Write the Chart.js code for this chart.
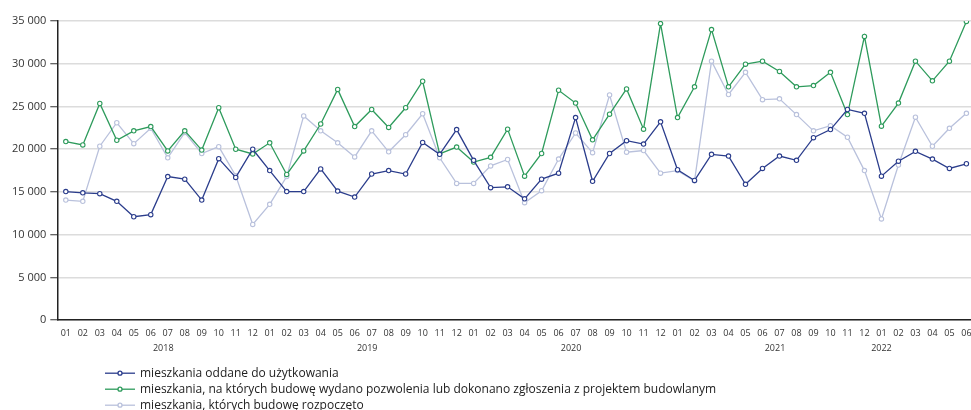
<!DOCTYPE html>
<html>
  <head>
    <meta charset="UTF-8">
    <style>
      html, body { margin: 0; padding: 0; background: #fff; overflow: hidden; }
      #wrap { width: 980px; height: 427px; }
    </style>
  </head>
  <body>
    <div id="wrap"><canvas id="chart"></canvas></div>

    <script src="https://cdn.jsdelivr.net/npm/chart.js@4.4.1/dist/chart.umd.min.js"></script>
    <script type="text/javascript">

      const months = ['01','02','03','04','05','06','07','08','09','10','11','12',
                      '01','02','03','04','05','06','07','08','09','10','11','12',
                      '01','02','03','04','05','06','07','08','09','10','11','12',
                      '01','02','03','04','05','06','07','08','09','10','11','12',
                      '01','02','03','04','05','06'];
      const years = ['2018', '2019', '2020', '2021', '2022'];

      // mieszkania oddane do użytkowania
      const oddane = [15050, 14900, 14800, 13900, 12100, 12350, 16800, 16500, 14050, 18900, 16700, 20000,
                      17500, 15050, 15050, 17700, 15100, 14400, 17100, 17500, 17100, 20800, 19400, 22300,
                      18700, 15500, 15600, 14200, 16500, 17200, 23700, 16250, 19500, 21000, 20600, 23200,
                      17600, 16350, 19400, 19200, 15900, 17750, 19200, 18700, 21350, 22300, 24650, 24200,
                      16850, 18600, 19750, 18850, 17750, 18300];
      // pozwolenia / zgłoszenia z projektem budowlanym
      const pozwolenia = [20900, 20500, 25350, 21050, 22150, 22650, 19800, 22150, 19900, 24850, 20000, 19450,
                          20750, 17050, 19800, 22950, 27000, 22650, 24650, 22550, 24850, 27950, 19450, 20250,
                          18500, 19050, 22350, 16850, 19500, 26900, 25400, 21100, 24100, 27050, 22350, 34700,
                          23700, 27300, 34000, 27300, 29950, 30300, 29100, 27300, 27450, 29000, 24050, 33200,
                          22700, 25400, 30300, 28000, 30300, 34950];
      // mieszkania, których budowę rozpoczęto
      const rozpoczete = [14050, 13900, 20350, 23100, 20650, 22450, 19000, 21950, 19500, 20300, 16900, 11200,
                          13550, 16800, 23900, 22150, 20750, 19100, 22150, 19700, 21700, 24150, 19000, 16000,
                          16000, 18050, 18800, 13750, 15150, 18850, 21900, 19600, 26350, 19650, 19850, 17200,
                          17500, 16300, 30300, 26400, 29000, 25800, 25900, 24050, 22150, 22750, 21400, 17500,
                          11850, 18150, 23750, 20350, 22450, 24200];

      const seriesNames = ['mieszkania oddane do użytkowania',
                           'mieszkania, na których budowę wydano pozwolenia lub dokonano zgłoszenia z projektem budowlanym',
                           'mieszkania, których budowę rozpoczęto'];
      const seriesColors = ['#2b3d8c', '#2e9b5c', '#b9c1dc'];

      const FONT = '"Open Sans", "Noto Sans", sans-serif';

      function fmt(v) {
        return String(v).replace(/\B(?=(\d{3})+(?!\d))/g, ' ');
      }

      // podpisy lat pod miesiącami
      const yearLabels = {
        id: 'yearLabels',
        afterDraw(chart) {
          const ctx = chart.ctx;
          const x = chart.scales.x;
          ctx.save();
          ctx.font = '9px ' + FONT;
          ctx.fillStyle = '#333';
          ctx.textAlign = 'center';
          ctx.textBaseline = 'middle';
          years.forEach((y, i) => {
            const first = i * 12;
            const last = Math.min(first + 11, months.length - 1);
            var px;
            if (last - first === 11) {
              px = (x.getPixelForValue(first) + x.getPixelForValue(last)) / 2 + 4;
            } else {
              px = x.getPixelForValue(first);
            }
            ctx.fillText(y, px, chart.chartArea.bottom + 28);
          });
          ctx.restore();
        }
      };

      // legenda w kolumnie
      const columnLegend = {
        id: 'columnLegend',
        afterDraw(chart) {
          const ctx = chart.ctx;
          ctx.save();
          ctx.font = '12px ' + FONT;
          ctx.textBaseline = 'middle';
          chart.data.datasets.forEach((ds, i) => {
            const y = chart.chartArea.bottom + 53 + i * 16;
            ctx.strokeStyle = ds.borderColor;
            ctx.lineWidth = 1.3;
            ctx.beginPath();
            ctx.moveTo(105, y);
            ctx.lineTo(135, y);
            ctx.stroke();
            ctx.beginPath();
            ctx.arc(120, y, 2, 0, Math.PI * 2);
            ctx.fillStyle = '#fff';
            ctx.fill();
            ctx.stroke();
            ctx.fillStyle = '#222';
            ctx.fillText(ds.label, 140, y);
          });
          ctx.restore();
        }
      };

      function makeSet(i, values) {
        return {
          label: seriesNames[i],
          data: values,
          borderColor: seriesColors[i],
          backgroundColor: '#fff',
          borderWidth: 1.3,
          pointRadius: 2.2,
          pointBorderWidth: 1.1,
          pointBackgroundColor: '#fff',
          tension: 0
        };
      }

      new Chart(document.getElementById('chart'), {
        type: 'line',
        data: {
          labels: months,
          datasets: [makeSet(0, oddane), makeSet(1, pozwolenia), makeSet(2, rozpoczete)]
        },
        options: {
          responsive: true,
          maintainAspectRatio: false,
          animation: false,
          layout: { padding: { top: 21, left: 8, right: 1, bottom: 80 } },
          plugins: {
            legend: { display: false },
            tooltip: { enabled: false }
          },
          scales: {
            x: {
              offset: true,
              grid: { display: false, drawTicks: false },
              border: { color: '#222', width: 1.5 },
              ticks: {
                autoSkip: false, maxRotation: 0, minRotation: 0, padding: 8,
                color: '#333', font: { family: FONT, size: 9 }
              }
            },
            y: {
              min: 0,
              max: 35000,
              ticks: {
                stepSize: 5000, padding: 4, color: '#333',
                font: { family: FONT, size: 11 },
                callback: (v) => fmt(v)
              },
              grid: { color: '#dcdcdc', lineWidth: 1.5, tickLength: 7, tickColor: '#333', tickWidth: 1 },
              border: { color: '#222', width: 1.5 }
            }
          }
        },
        plugins: [yearLabels, columnLegend]
      });

    </script>
  </body>
</html>
